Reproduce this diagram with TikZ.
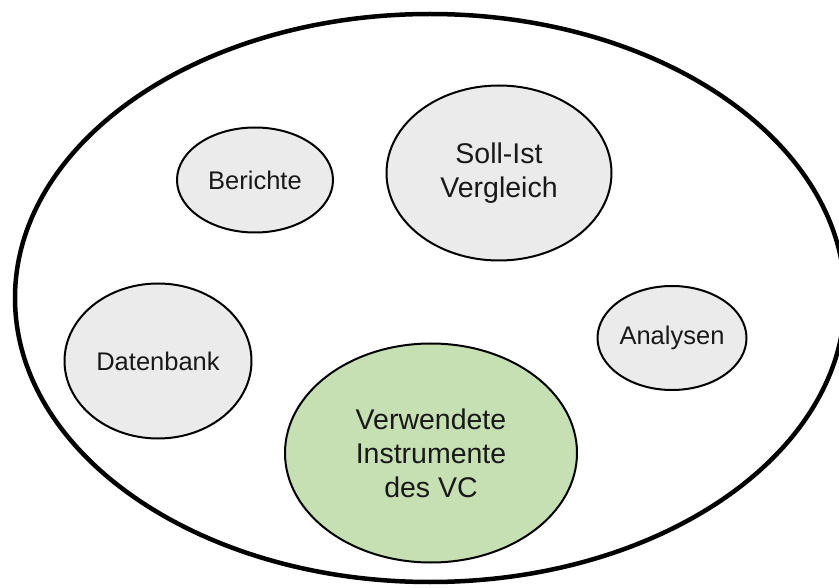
\documentclass[tikz,border=0pt]{standalone}
\usepackage{fontspec}
\setmainfont{Liberation Sans}
\usetikzlibrary{shapes.geometric}
\definecolor{bubblegray}{RGB}{235,235,235}
\definecolor{bubblegreen}{RGB}{198,224,180}
\begin{document}
\begin{tikzpicture}[x=1pt,y=-1pt,
  bubble/.style={ellipse, draw=black, line width=2pt, fill=bubblegray, inner sep=0pt, align=center, text=black!90},
  smalltext/.style={font=\fontsize{25.5}{30}\selectfont},
  bigtext/.style={font=\fontsize{28.5}{34}\selectfont}]
\useasboundingbox (0,0) rectangle (839,588);
\node[ellipse, draw=black, line width=4.5pt, minimum width=830pt, minimum height=568pt, inner sep=0pt] (outer) at (430,298) {};
\node[bubble, smalltext, minimum width=156pt, minimum height=105pt] (berichte) at (255,180) {Berichte};
\node[bubble, bigtext, minimum width=225pt, minimum height=175pt] (soll) at (499,173) {Soll-Ist\\Vergleich};
\node[bubble, smalltext, minimum width=187pt, minimum height=155pt] (daten) at (158,361) {Datenbank};
\node[bubble, smalltext, minimum width=149pt, minimum height=104pt] (analysen) at (672,338) {Analysen};
\node[bubble, bigtext, fill=bubblegreen, minimum width=292pt, minimum height=219pt] (vc) at (431,453) {Verwendete\\Instrumente\\des VC};
\end{tikzpicture}
\end{document}
